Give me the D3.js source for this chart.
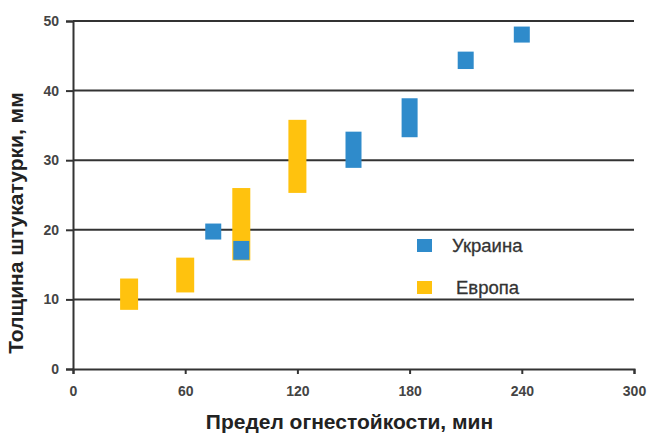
<!DOCTYPE html>
<html>
<head>
<meta charset="utf-8">
<script src="https://cdn.jsdelivr.net/npm/d3@7"></script>
<style>
  html, body { margin: 0; padding: 0; background: #fff; }
  svg { display: block; }
</style>
</head>
<body>
<div id="chart"></div>
<script>
// Fire-resistance limit (min) vs. plaster thickness (mm): ranges per standard
const xTicks = [0, 60, 120, 180, 240, 300];
const yTicks = [0, 10, 20, 30, 40, 50];

const europeX    = [30, 60, 90, 120];
const europeLow  = [8.5, 11, 15.6, 25.3];
const europeHigh = [13, 16, 26, 35.8];

const ukraineX    = [75, 90, 150, 180, 210, 240];
const ukraineLow  = [18.6, 15.7, 28.9, 33.3, 43.1, 46.9];
const ukraineHigh = [20.9, 18.4, 34.1, 38.9, 45.6, 49.2];

const seriesNames = ["Украина", "Европа"];
const colors = { "Украина": "#2f8bcb", "Европа": "#ffc20e" };

const W = 649, H = 433;
const margin = { left: 73, right: 15, top: 21, bottom: 64 };
const FONT = "Liberation Sans, Arial, sans-serif";

const svg = d3.select("#chart").append("svg")
  .attr("width", W).attr("height", H);

const x = d3.scaleLinear().domain([0, 300]).range([margin.left, W - margin.right]);
const y = d3.scaleLinear().domain([0, 50]).range([H - margin.bottom, margin.top]);

// horizontal gridlines
svg.append("g").selectAll("line")
  .data(yTicks.filter(d => d > 0))
  .join("line")
  .attr("x1", x(0)).attr("x2", x(300))
  .attr("y1", d => y(d)).attr("y2", d => y(d))
  .attr("stroke", "#333").attr("stroke-width", 2);

// y axis
const yAxis = svg.append("g")
  .attr("transform", `translate(${x(0)},0)`)
  .call(d3.axisLeft(y).tickValues(yTicks).tickSize(7).tickPadding(7).tickFormat(d3.format("d")));
yAxis.select(".domain").attr("stroke", "#333").attr("stroke-width", 2);
yAxis.selectAll(".tick line").attr("stroke", "#333").attr("stroke-width", 2);
yAxis.selectAll(".tick text")
  .attr("fill", "#444").attr("font-family", FONT)
  .attr("font-size", 14).attr("font-weight", "bold");

// x axis
const xAxis = svg.append("g")
  .attr("transform", `translate(0,${y(0)})`)
  .call(d3.axisBottom(x).tickValues(xTicks).tickSize(5).tickPadding(12).tickFormat(d3.format("d")));
xAxis.select(".domain").attr("stroke", "#333").attr("stroke-width", 2);
xAxis.selectAll(".tick line").attr("stroke", "#333").attr("stroke-width", 2);
xAxis.selectAll(".tick text")
  .attr("fill", "#444").attr("font-family", FONT)
  .attr("font-size", 14).attr("font-weight", "bold");

// range marks
function drawRanges(xs, lows, highs, name, width) {
  svg.append("g").selectAll("rect")
    .data(xs.map((v, i) => ({ x: v, lo: lows[i], hi: highs[i] })))
    .join("rect")
    .attr("x", d => x(d.x) - width / 2)
    .attr("width", width)
    .attr("y", d => y(d.hi))
    .attr("height", d => y(d.lo) - y(d.hi))
    .attr("fill", colors[name]);
}
drawRanges(europeX, europeLow, europeHigh, "Европа", 18);
drawRanges(ukraineX, ukraineLow, ukraineHigh, "Украина", 16);

// legend
const legend = svg.append("g").attr("transform", "translate(417,239)");
seriesNames.forEach((name, i) => {
  const g = legend.append("g").attr("transform", `translate(0,${i * 42})`);
  g.append("rect").attr("width", 15).attr("height", 13).attr("fill", colors[name]);
  g.append("text")
    .attr("x", i === 0 ? 35 : 39).attr("y", 13)
    .attr("font-family", FONT)
    .attr("font-size", 18.5).attr("fill", "#333")
    .attr("stroke", "#333").attr("stroke-width", 0.3)
    .text(name);
});

// axis titles
svg.append("text")
  .attr("x", (x(0) + x(300)) / 2 - 4).attr("y", 429)
  .attr("text-anchor", "middle")
  .attr("font-family", FONT)
  .attr("font-size", 21).attr("font-weight", "bold").attr("fill", "#222")
  .text("Предел огнестойкости, мин");

svg.append("text")
  .attr("transform", `translate(23,${223}) rotate(-90)`)
  .attr("text-anchor", "middle")
  .attr("font-family", FONT)
  .attr("font-size", 21).attr("font-weight", "bold").attr("fill", "#222")
  .text("Толщина штукатурки, мм");
</script>
</body>
</html>
